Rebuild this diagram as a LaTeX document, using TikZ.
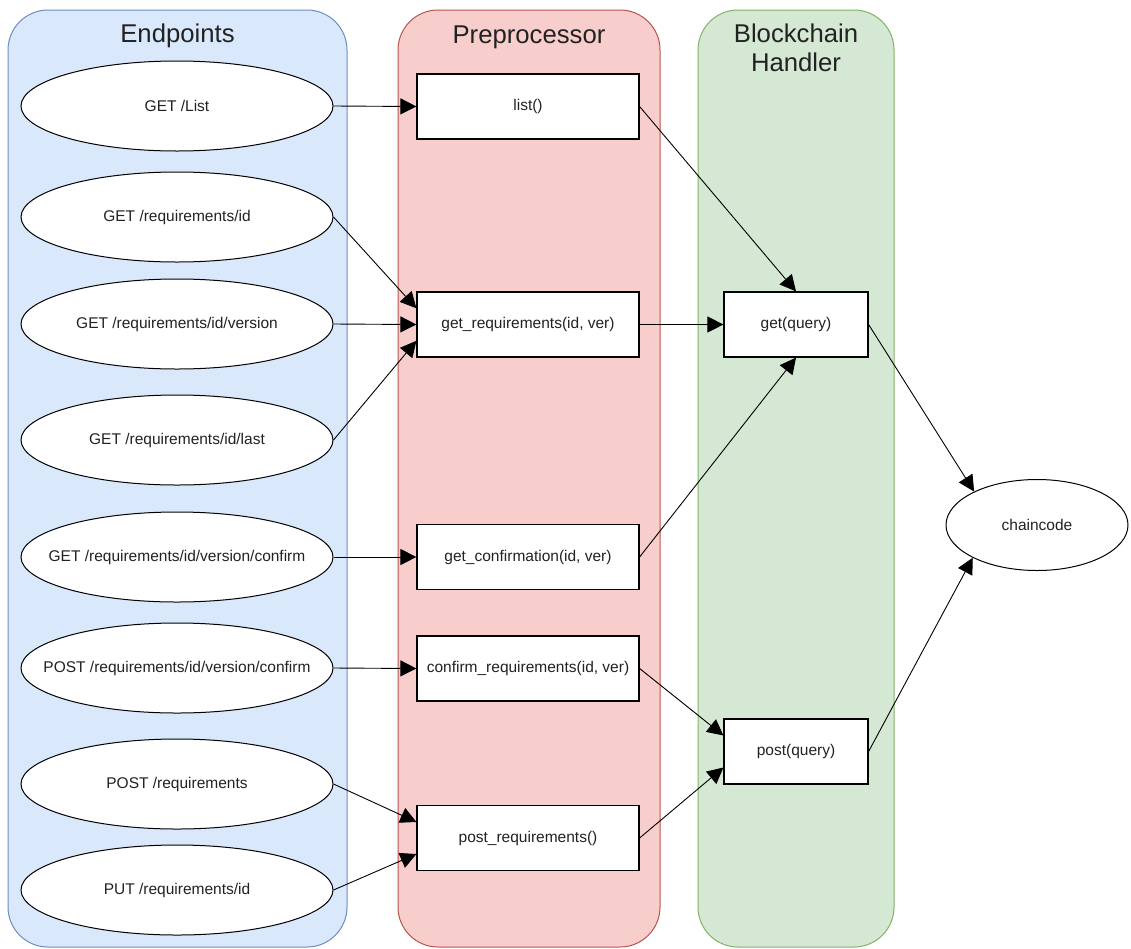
\documentclass[tikz,border=0pt]{standalone}
\usepackage{fontspec}
\setmainfont{Liberation Sans}
\usetikzlibrary{arrows.meta,shapes.geometric}

\definecolor{epfill}{HTML}{DAE8FC}
\definecolor{epline}{HTML}{6C8EBF}
\definecolor{ppfill}{HTML}{F8CECC}
\definecolor{ppline}{HTML}{B85450}
\definecolor{bcfill}{HTML}{D5E8D4}
\definecolor{bcline}{HTML}{82B366}
\definecolor{labeltext}{HTML}{222222}

\tikzset{
  lane/.style={rectangle, rounded corners=40pt, line width=1pt, inner sep=0pt,
    minimum height=937pt},
  lanetitle/.style={font=\fontsize{25.7}{29}\selectfont, text=labeltext, align=center},
  % ellipse size is fixed; the label is set in a zero-width box so it never widens the shape
  endpoint/.style={ellipse, draw, line width=1pt, fill=white, inner sep=0pt,
    minimum width=312pt, minimum height=90pt,
    font=\fontsize{15.5}{18}\selectfont, text=labeltext,
    execute at begin node={\hbox to 0pt\bgroup\hss},
    execute at end node={\hss\egroup}},
  func/.style={rectangle, draw, line width=1.2pt, fill=white, inner sep=0pt,
    minimum width=222pt, minimum height=65pt,
    font=\fontsize{15.5}{18}\selectfont, text=labeltext},
  handler/.style={func, minimum width=144pt},
  flow/.style={-{Triangle[length=16pt,width=16pt]}, line width=0.9pt}
}

\begin{document}
\begin{tikzpicture}[x=1pt,y=-1pt]
\useasboundingbox (0,0) rectangle (1131,948);

% swimlanes
\node[lane, fill=epfill, draw=epline, minimum width=339pt] (laneEP) at (177.5,478.5) {};
\node[lane, fill=ppfill, draw=ppline, minimum width=262pt] (lanePP) at (529,478.5) {};
\node[lane, fill=bcfill, draw=bcline, minimum width=196pt] (laneBC) at (796,478.5) {};

\node[lanetitle] (titleEP) at (177.5,36) {Endpoints};
\node[lanetitle] (titlePP) at (529,37) {Preprocessor};
\node[lanetitle] (titleBC) at (796,48) {Blockchain\\Handler};

% REST endpoints
\node[endpoint] (e1) at (177,106) {GET /List};
\node[endpoint] (e2) at (177,217) {GET /requirements/id};
\node[endpoint] (e3) at (177,324) {GET /requirements/id/version};
\node[endpoint] (e4) at (177,440) {GET /requirements/id/last};
\node[endpoint] (e5) at (177,557) {GET /requirements/id/version/confirm};
\node[endpoint] (e6) at (177,668) {POST /requirements/id/version/confirm};
\node[endpoint] (e7) at (177,784) {POST /requirements};
\node[endpoint] (e8) at (177,890) {PUT /requirements/id};

% preprocessor functions
\node[func] (f1) at (528,106.5) {list()};
\node[func] (f2) at (528,324.5) {get\_requirements(id, ver)};
\node[func] (f3) at (528,557) {get\_confirmation(id, ver)};
\node[func] (f4) at (528,668.5) {confirm\_requirements(id, ver)};
\node[func] (f5) at (528,838) {post\_requirements()};

% blockchain handler
\node[handler] (g) at (796,324.5) {get(query)};
\node[handler] (p) at (796,751.5) {post(query)};

% chaincode
\node[endpoint, minimum width=182pt, minimum height=91pt] (cc) at (1037,525) {chaincode};

% endpoints -> preprocessor
\draw[flow] (e1.east) -- (f1.west);
\draw[flow] (e2.east) -- ([yshift=16.25pt]f2.west);
\draw[flow] (e3.east) -- (f2.west);
\draw[flow] (e4.east) -- ([yshift=-16.25pt]f2.west);
\draw[flow] (e5.east) -- (f3.west);
\draw[flow] (e6.east) -- (f4.west);
\draw[flow] (e7.east) -- ([yshift=16pt]f5.west);
\draw[flow] (e8.east) -- ([yshift=-16pt]f5.west);

% preprocessor -> handler
\draw[flow] (f1.east) -- (g.north);
\draw[flow] (f2.east) -- (g.west);
\draw[flow] (f3.east) -- (g.south);
\draw[flow] (f4.east) -- ([yshift=16pt]p.west);
\draw[flow] (f5.east) -- ([yshift=-16pt]p.west);

% handler -> chaincode
\draw[flow] (g.east) -- (cc.152.7);
\draw[flow] (p.east) -- (cc.207.3);
\end{tikzpicture}
\end{document}
